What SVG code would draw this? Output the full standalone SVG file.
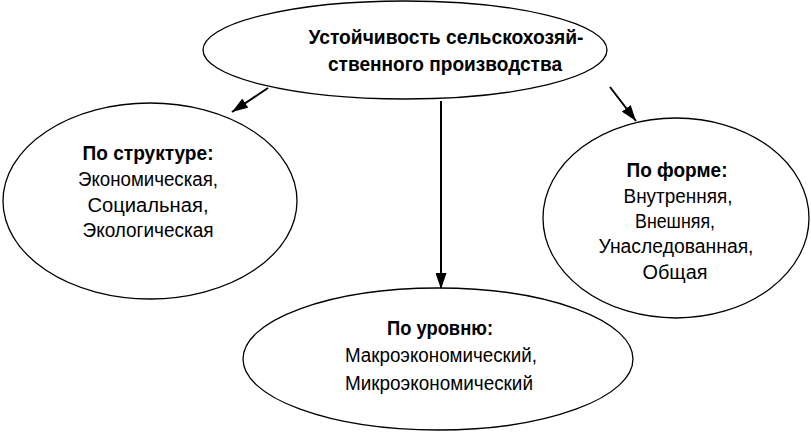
<svg xmlns="http://www.w3.org/2000/svg" width="811" height="435" viewBox="0 0 811 435">
<defs>
<marker id="ah" viewBox="0 0 16 11" refX="16" refY="5.5" markerWidth="16" markerHeight="11" markerUnits="userSpaceOnUse" orient="auto">
<path d="M0,0 L16,5.5 L0,11 z" fill="#000"/>
</marker>
</defs>
<style>
.n{fill:#fff;stroke:#000;stroke-width:1.3}
.t{font-family:"Liberation Sans",Arial,sans-serif;font-size:20px;text-anchor:middle;fill:#000}
.b{font-weight:bold}
.c{stroke:#000;stroke-width:2;fill:none}
</style>
<rect width="811" height="435" fill="#fff"/>
<g id="connectors">
<line class="c" x1="268" y1="88" x2="232" y2="112" marker-end="url(#ah)"/>
<line class="c" x1="441" y1="101" x2="441" y2="289" marker-end="url(#ah)"/>
<line class="c" x1="610" y1="87" x2="636" y2="121" marker-end="url(#ah)"/>
</g>
<g id="top">
<ellipse class="n" cx="405" cy="50" rx="202" ry="49"/>
<text class="t b" x="446" y="44" textLength="275" lengthAdjust="spacingAndGlyphs">Устойчивость сельскохозяй-</text>
<text class="t b" x="445" y="71" textLength="234" lengthAdjust="spacingAndGlyphs">ственного производства</text>
</g>
<g id="structure">
<ellipse class="n" cx="150" cy="201" rx="147" ry="98"/>
<text class="t b" x="148" y="160" textLength="131" lengthAdjust="spacingAndGlyphs">По структуре:</text>
<text class="t" x="148" y="186" textLength="140" lengthAdjust="spacingAndGlyphs">Экономическая,</text>
<text class="t" x="148" y="212" textLength="121" lengthAdjust="spacingAndGlyphs">Социальная,</text>
<text class="t" x="148" y="237" textLength="131" lengthAdjust="spacingAndGlyphs">Экологическая</text>
</g>
<g id="form">
<ellipse class="n" cx="676" cy="218" rx="133" ry="100"/>
<text class="t b" x="677" y="177" textLength="101" lengthAdjust="spacingAndGlyphs">По форме:</text>
<text class="t" x="678" y="203" textLength="109" lengthAdjust="spacingAndGlyphs">Внутренняя,</text>
<text class="t" x="675" y="228" textLength="80" lengthAdjust="spacingAndGlyphs">Внешняя,</text>
<text class="t" x="676" y="253" textLength="155" lengthAdjust="spacingAndGlyphs">Унаследованная,</text>
<text class="t" x="675" y="279" textLength="65" lengthAdjust="spacingAndGlyphs">Общая</text>
</g>
<g id="level">
<ellipse class="n" cx="438" cy="359" rx="195" ry="71"/>
<text class="t b" x="440" y="335" textLength="106" lengthAdjust="spacingAndGlyphs">По уровню:</text>
<text class="t" x="441" y="362" textLength="192" lengthAdjust="spacingAndGlyphs">Макроэкономический,</text>
<text class="t" x="439" y="390" textLength="188" lengthAdjust="spacingAndGlyphs">Микроэкономический</text>
</g>
</svg>
